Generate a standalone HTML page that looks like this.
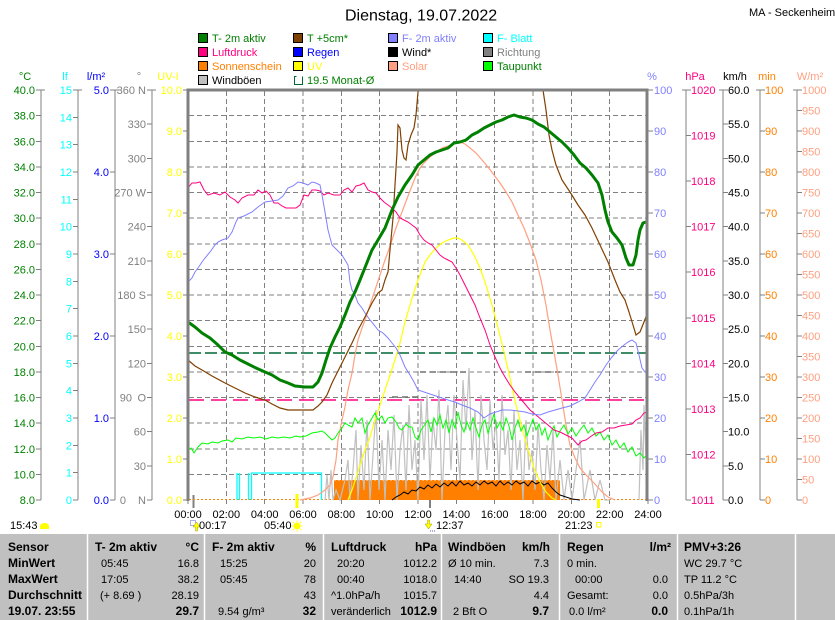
<!DOCTYPE html>
<html><head><meta charset="utf-8">
<style>
html,body{margin:0;padding:0;background:#fff;}
svg{display:block;}
text{font-family:"Liberation Sans",Arial,sans-serif;}
</style></head><body>
<svg width="835" height="620" viewBox="0 0 835 620" xmlns="http://www.w3.org/2000/svg">
<rect x="0" y="0" width="835" height="620" fill="#fff"/>

<!-- Title -->
<text x="345" y="20.5" font-size="16" fill="#000">Dienstag, 19.07.2022</text>
<text x="749" y="16" font-size="11" fill="#000">MA - Seckenheim</text>

<!-- Legend -->
<g font-size="11" stroke-width="1">
<rect x="198.5" y="33.5" width="9" height="9" fill="#008000" stroke="#000"/>
<text x="212" y="42" fill="#008000">T- 2m aktiv</text>
<rect x="198.5" y="47.5" width="9" height="9" fill="#FF0080" stroke="#000"/>
<text x="212" y="56" fill="#FF0080">Luftdruck</text>
<rect x="198.5" y="61.5" width="9" height="9" fill="#FF8000" stroke="#000"/>
<text x="212" y="70" fill="#FF8000">Sonnenschein</text>
<rect x="198.5" y="75.5" width="9" height="9" fill="#C0C0C0" stroke="#000"/>
<text x="212" y="84" fill="#000">Windböen</text>

<rect x="293.5" y="33.5" width="9" height="9" fill="#804000" stroke="#000"/>
<text x="307" y="42" fill="#008000">T +5cm*</text>
<rect x="293.5" y="47.5" width="9" height="9" fill="#0000FF" stroke="#000"/>
<text x="307" y="56" fill="#0000FF">Regen</text>
<rect x="293.5" y="61.5" width="9" height="9" fill="#FFFF00" stroke="#000"/>
<text x="307" y="70" fill="#FFFF00">UV</text>
<path d="M296.5,76.5 H294.5 V84.5 H302.5 V76.5" fill="none" stroke="#006633"/>
<text x="307" y="84" fill="#008000">19.5 Monat-Ø</text>

<rect x="388.5" y="33.5" width="9" height="9" fill="#8080FF" stroke="#000"/>
<text x="402" y="42" fill="#8080FF">F- 2m aktiv</text>
<rect x="388.5" y="47.5" width="9" height="9" fill="#000" stroke="#000"/>
<text x="402" y="56" fill="#000">Wind*</text>
<rect x="388.5" y="61.5" width="9" height="9" fill="#FFA080" stroke="#000"/>
<text x="402" y="70" fill="#FFA080">Solar</text>

<rect x="483.5" y="33.5" width="9" height="9" fill="#00FFFF" stroke="#000"/>
<text x="497" y="42" fill="#00FFFF">F- Blatt</text>
<rect x="483.5" y="47.5" width="9" height="9" fill="#808080" stroke="#000"/>
<text x="497" y="56" fill="#808080">Richtung</text>
<rect x="483.5" y="61.5" width="9" height="9" fill="#00FF00" stroke="#000"/>
<text x="497" y="70" fill="#008000">Taupunkt</text>
</g>

<!-- Axis titles -->
<g font-size="11" text-anchor="middle">
<text x="25" y="80" fill="#008000">°C</text>
<text x="65" y="80" fill="#00FFFF">lf</text>
<text x="96" y="80" fill="#0000FF">l/m²</text>
<text x="139" y="80" fill="#808080">°</text>
<text x="168" y="80" fill="#FFFF00">UV-I</text>
<text x="652" y="80" fill="#8080FF">%</text>
<text x="695" y="80" fill="#FF0080">hPa</text>
<text x="735" y="80" fill="#000">km/h</text>
<text x="767" y="80" fill="#FF8000">min</text>
<text x="810" y="80" fill="#FFA080">W/m²</text>
</g>

<!-- Axis lines and ticks -->
<g stroke="#808080" stroke-width="1" fill="none" shape-rendering="crispEdges">
<path d="M41,90V500 M36,90H45 M36,115.6H41 M36,141.3H41 M36,166.9H41 M36,192.5H41 M36,218.1H41 M36,243.8H41 M36,269.4H41 M36,295H41 M36,320.6H41 M36,346.3H41 M36,371.9H41 M36,397.5H41 M36,423.1H41 M36,448.8H41 M36,474.4H41 M36,500H41"/>
<path d="M78,90V500 M73,90H82 M73,117.3H78 M73,144.7H78 M73,172H78 M73,199.3H78 M73,226.7H78 M73,254H78 M73,281.3H78 M73,308.7H78 M73,336H78 M73,363.3H78 M73,390.7H78 M73,418H78 M73,445.3H78 M73,472.7H78 M73,500H78"/>
<path d="M115,90V500 M110,90H119 M110,172H115 M110,254H115 M110,336H115 M110,418H115 M110,500H115"/>
<path d="M152,90V500 M147,90H156 M147,124.2H152 M147,158.3H152 M147,192.5H152 M147,226.7H152 M147,260.8H152 M147,295H152 M147,329.2H152 M147,363.3H152 M147,397.5H152 M147,431.7H152 M147,465.8H152 M147,500H152"/>
<path d="M183,90H188 M183,131H188 M183,172H188 M183,213H188 M183,254H188 M183,295H188 M183,336H188 M183,377H188 M183,418H188 M183,459H188 M183,500H188"/>
<path d="M648,90H653 M648,131H653 M648,172H653 M648,213H653 M648,254H653 M648,295H653 M648,336H653 M648,377H653 M648,418H653 M648,459H653 M648,500H653"/>
<path d="M686,90V500 M682,90H691 M686,135.6H691 M686,181.1H691 M686,226.7H691 M686,272.2H691 M686,317.8H691 M686,363.3H691 M686,408.9H691 M686,454.4H691 M686,500H691"/>
<path d="M723,90V500 M719,90H728 M723,124.2H728 M723,158.3H728 M723,192.5H728 M723,226.7H728 M723,260.8H728 M723,295H728 M723,329.2H728 M723,363.3H728 M723,397.5H728 M723,431.7H728 M723,465.8H728 M723,500H728"/>
<path d="M760,90V500 M756,90H765 M760,131H765 M760,172H765 M760,213H765 M760,254H765 M760,295H765 M760,336H765 M760,377H765 M760,418H765 M760,459H765 M760,500H765"/>
<path d="M797,90V500 M793,90H802 M797,110.5H802 M797,131H802 M797,151.5H802 M797,172H802 M797,192.5H802 M797,213H802 M797,233.5H802 M797,254H802 M797,274.5H802 M797,295H802 M797,315.5H802 M797,336H802 M797,356.5H802 M797,377H802 M797,397.5H802 M797,418H802 M797,438.5H802 M797,459H802 M797,479.5H802 M797,500H802"/>
<!-- time ticks -->
<path d="M188,500V504 M226.3,500V504 M264.7,500V504 M303,500V504 M341.3,500V504 M379.7,500V504 M418,500V504 M456.3,500V504 M494.7,500V504 M533,500V504 M571.3,500V504 M609.7,500V504 M648,500V504"/>
<path d="M193.5,495V508 M430,500V508" stroke-width="2"/>
</g>

<!-- Left labels -->
<g font-size="11" text-anchor="end">
<g fill="#008000">
<text x="35" y="94">40.0</text><text x="35" y="119.6">38.0</text><text x="35" y="145.3">36.0</text><text x="35" y="170.9">34.0</text><text x="35" y="196.5">32.0</text><text x="35" y="222.1">30.0</text><text x="35" y="247.8">28.0</text><text x="35" y="273.4">26.0</text><text x="35" y="299">24.0</text><text x="35" y="324.6">22.0</text><text x="35" y="350.3">20.0</text><text x="35" y="375.9">18.0</text><text x="35" y="401.5">16.0</text><text x="35" y="427.1">14.0</text><text x="35" y="452.8">12.0</text><text x="35" y="478.4">10.0</text><text x="35" y="504">8.0</text>
</g>
<g fill="#00FFFF">
<text x="72" y="94">15</text><text x="72" y="121.3">14</text><text x="72" y="148.7">13</text><text x="72" y="176">12</text><text x="72" y="203.3">11</text><text x="72" y="230.7">10</text><text x="72" y="258">9</text><text x="72" y="285.3">8</text><text x="72" y="312.7">7</text><text x="72" y="340">6</text><text x="72" y="367.3">5</text><text x="72" y="394.7">4</text><text x="72" y="422">3</text><text x="72" y="449.3">2</text><text x="72" y="476.7">1</text><text x="72" y="504">0</text>
</g>
<g fill="#0000FF">
<text x="109" y="94">5.0</text><text x="109" y="176">4.0</text><text x="109" y="258">3.0</text><text x="109" y="340">2.0</text><text x="109" y="422">1.0</text><text x="109" y="504">0.0</text>
</g>
<g fill="#808080">
<text x="146" y="94">360 N</text><text x="146" y="128.2">330</text><text x="146" y="162.3">300</text><text x="146" y="196.5">270 W</text><text x="146" y="230.7">240</text><text x="146" y="264.8">210</text><text x="146" y="299">180 S</text><text x="146" y="333.2">150</text><text x="146" y="367.3">120</text><text x="132" y="401.5">90</text><text x="146" y="401.5">O</text><text x="146" y="435.7">60</text><text x="146" y="469.8">30</text><text x="126" y="504">0</text><text x="146" y="504">N</text>
</g>
<g fill="#FFFF00">
<text x="182" y="94">10.0</text><text x="182" y="135">9.0</text><text x="182" y="176">8.0</text><text x="182" y="217">7.0</text><text x="182" y="258">6.0</text><text x="182" y="299">5.0</text><text x="182" y="340">4.0</text><text x="182" y="381">3.0</text><text x="182" y="422">2.0</text><text x="182" y="463">1.0</text><text x="182" y="504">0.0</text>
</g>
</g>

<!-- Right labels -->
<g font-size="11">
<g fill="#8080FF">
<text x="654" y="94">100</text><text x="654" y="135">90</text><text x="654" y="176">80</text><text x="654" y="217">70</text><text x="654" y="258">60</text><text x="654" y="299">50</text><text x="654" y="340">40</text><text x="654" y="381">30</text><text x="654" y="422">20</text><text x="654" y="463">10</text><text x="654" y="504">0</text>
</g>
<g fill="#FF0080">
<text x="691" y="94">1020</text><text x="691" y="139.6">1019</text><text x="691" y="185.1">1018</text><text x="691" y="230.7">1017</text><text x="691" y="276.2">1016</text><text x="691" y="321.8">1015</text><text x="691" y="367.3">1014</text><text x="691" y="412.9">1013</text><text x="691" y="458.4">1012</text><text x="691" y="504">1011</text>
</g>
<g fill="#000">
<text x="728" y="94">60.0</text><text x="728" y="128.2">55.0</text><text x="728" y="162.3">50.0</text><text x="728" y="196.5">45.0</text><text x="728" y="230.7">40.0</text><text x="728" y="264.8">35.0</text><text x="728" y="299">30.0</text><text x="728" y="333.2">25.0</text><text x="728" y="367.3">20.0</text><text x="728" y="401.5">15.0</text><text x="728" y="435.7">10.0</text><text x="728" y="469.8">5.0</text><text x="728" y="504">0.0</text>
</g>
<g fill="#FF8000">
<text x="765" y="94">100</text><text x="765" y="135">90</text><text x="765" y="176">80</text><text x="765" y="217">70</text><text x="765" y="258">60</text><text x="765" y="299">50</text><text x="765" y="340">40</text><text x="765" y="381">30</text><text x="765" y="422">20</text><text x="765" y="463">10</text><text x="765" y="504">0</text>
</g>
<g fill="#FFA080">
<text x="802" y="94">1000</text><text x="802" y="114.5">950</text><text x="802" y="135">900</text><text x="802" y="155.5">850</text><text x="802" y="176">800</text><text x="802" y="196.5">750</text><text x="802" y="217">700</text><text x="802" y="237.5">650</text><text x="802" y="258">600</text><text x="802" y="278.5">550</text><text x="802" y="299">500</text><text x="802" y="319.5">450</text><text x="802" y="340">400</text><text x="802" y="360.5">350</text><text x="802" y="381">300</text><text x="802" y="401.5">250</text><text x="802" y="422">200</text><text x="802" y="442.5">150</text><text x="802" y="463">100</text><text x="802" y="483.5">50</text><text x="802" y="504">0</text>
</g>
</g>

<!-- Grid -->
<g stroke="#808080" stroke-width="1" stroke-dasharray="5,3" fill="none" shape-rendering="crispEdges">
<path d="M189,115.6H647 M189,141.3H647 M189,166.9H647 M189,192.5H647 M189,218.1H647 M189,243.8H647 M189,269.4H647 M189,295H647 M189,320.6H647 M189,346.3H647 M189,371.9H647 M189,397.5H647 M189,423.1H647 M189,448.8H647 M189,474.4H647"/>
<path d="M226.3,91V500 M264.7,91V500 M303,91V500 M341.3,91V500 M379.7,91V500 M418,91V500 M456.3,91V500 M494.7,91V500 M533,91V500 M571.3,91V500 M609.7,91V500"/>
</g>

<!-- Sunshine -->
<rect x="334" y="480" width="226" height="20" fill="#FF8000"/>
<path d="M334,480.5H560" stroke="#FFB060" stroke-dasharray="2,2" stroke-width="1"/>
<path d="M189,499.5H647" stroke="#FF8000" stroke-dasharray="2,2" stroke-width="1"/>

<!-- Average lines -->
<path d="M189,353H647" stroke="#006633" stroke-width="1.5" stroke-dasharray="12,4" fill="none"/>
<path d="M189,400H647" stroke="#FF0080" stroke-width="1.5" stroke-dasharray="15,7" fill="none"/>
<path d="M392,397H420 M420,372H470 M525,372H560" stroke="#707070" stroke-width="1.5" stroke-dasharray="6,4" fill="none"/>

<!-- F-Blatt -->
<path d="M237,500V473V500 M239.5,500V473V500 M248.5,500V473V500 M251.5,500V473H321.5V500" stroke="#00FFFF" stroke-width="1.3" fill="none"/>

<!-- Windböen -->
<polyline fill="none" stroke="#C0C0C0" stroke-width="1.2" points="325,500 327,475 329,500 331,470 333,500 336,490 340,500 345,480 348,460 350,500 353,470 356,430 358,500 361,445 364,490 367,420 370,500 373,455 376,410 379,490 382,440 385,500 388,430 391,470 394,415 397,500 400,450 403,425 406,490 409,405 412,470 415,440 418,500 421,400 424,460 427,395 430,480 433,420 436,450 439,390 442,500 445,430 448,405 451,470 454,395 457,440 460,480 463,380 466,430 469,368 472,460 475,410 478,490 481,395 484,440 487,470 490,400 493,450 496,420 499,480 502,395 505,455 508,430 511,490 514,410 517,470 520,440 523,500 526,420 529,470 532,450 535,490 538,425 541,470 544,500 547,445 550,480 553,430 556,500 560,460 564,500 568,470 572,500 580,440 584,500 590,470 595,500 600,480 605,500 610,500"/>
<polyline fill="none" stroke="#C0C0C0" stroke-width="1.2" points="639,500 641,430 643,470 644,405 646,460 647,420"/>

<!-- Wind -->
<polyline fill="none" stroke="#000" stroke-width="1" points="392,500 396,497 400,495 404,492 408,494 412,490 416,491 420,487 424,489 428,485 432,488 436,484 440,487 444,483 448,486 452,482 456,486 460,481 464,485 468,483 472,486 476,482 480,485 484,481 488,484 492,482 496,486 500,481 504,485 508,482 512,485 516,481 520,484 524,482 528,486 532,481 536,484 540,482 544,485 548,483 552,488 556,492 560,495 566,497 572,499 580,500"/>

<!-- UV -->
<polyline fill="none" stroke="#FFFF00" stroke-width="1.2" points="348,500 352,490 356,478 360,465 365,450 370,437 375,420 380,405 385,390 390,375 395,360 400,343 405,322 410,305 413,295 418,280 425,262 430,255 436,248 442,243 448,240 454,238 458,238 462,240 468,245 474,255 480,268 486,285 492,305 498,328 504,352 510,378 516,405 522,428 528,450 534,468 540,482 546,492 552,498 556,500"/>

<!-- Solar -->
<polyline fill="none" stroke="#FFA080" stroke-width="1.2" points="300,500 310,498 318,495 325,490 330,485 333,477 336,460 338,440 342,420 345,407 348,390 352,373 355,355 358,340 362,328 365,320 370,305 375,290 380,275 385,260 388,252 392,240 396,228 402,212 408,196 415,178 420,168 424,163 430,157 436,152 442,148 448,146 455,143 460,142 465,144 470,148 476,153 482,160 488,167 494,175 500,183 506,192 512,202 518,215 524,228 530,243 536,260 541,280 546,305 550,330 554,352 558,375 562,400 566,425 570,445 575,458 580,468 587,476 595,484 602,492 608,497 615,500"/>

<!-- Taupunkt -->
<polyline fill="none" stroke="#00FF00" stroke-width="1" points="188,450 191,448 194,453 198,447 202,443 208,444 212,442 218,443 222,441 228,440 232,442 236,438 242,439 248,437 254,438 260,437 266,439 272,437 278,438 284,437 290,438 296,436 300,437 306,436 312,433 318,432 322,431 325,433 328,436 332,440 335,438 338,433 342,428 345,423 348,425 352,427 355,418 358,423 362,418 365,433 368,425 372,418 375,413 378,420 382,416 385,423 388,418 392,417 396,422 399,428 402,430 406,424 409,427 412,427 415,437 418,440 421,430 424,426 428,420 431,432 434,418 437,425 440,415 443,428 446,420 449,433 452,420 455,428 458,412 461,425 464,432 467,422 470,430 473,418 476,428 479,437 482,425 485,420 488,433 491,424 494,414 497,428 500,422 503,430 506,418 509,426 512,440 515,428 518,420 521,431 524,425 527,436 530,427 533,419 536,430 539,424 542,435 545,428 548,440 551,432 554,426 557,437 560,431 564,425 568,434 572,428 576,436 580,430 584,425 588,433 592,428 596,436 600,432 604,440 608,435 612,445 616,440 620,448 624,443 628,452 632,447 636,456 640,453 644,458 647,455"/>

<!-- Luftdruck -->
<polyline fill="none" stroke="#FF0080" stroke-width="1" points="188,188 192,183 196,183 200,182 204,190 208,195 214,193 220,195 225,192 230,197 235,200 238,203 242,198 248,195 254,195 258,190 262,193 266,191 270,195 274,203 278,203 282,206 286,208 290,208 296,208 300,205 304,195 308,196 312,190 316,190 320,191 324,195 328,193 334,195 340,195 344,190 348,188 352,192 356,186 360,185 364,183 368,190 372,192 376,193 380,198 384,202 388,205 392,208 396,212 400,218 404,220 408,222 412,225 416,228 420,235 424,240 428,243 432,245 436,250 440,255 444,258 448,260 452,262 456,268 460,275 465,285 470,295 475,305 480,318 485,330 490,345 495,357 500,368 505,377 510,385 515,392 520,398 525,404 530,410 536,415 542,420 548,425 554,430 560,432 566,435 572,438 578,445 582,441 586,440 590,437 596,433 602,432 608,428 614,428 620,426 626,425 632,424 636,420 640,418 644,413 647,412"/>

<!-- F- 2m aktiv -->
<polyline fill="none" stroke="#8080FF" stroke-width="1" points="188,282 192,278 195,272 198,268 202,262 205,258 210,252 215,245 218,242 222,240 228,238 232,232 236,222 238,218 244,216 252,212 258,207 265,202 272,201 278,200 283,196 288,188 293,186 298,182 303,183 308,185 312,182 316,183 320,185 322,195 325,212 328,230 332,245 337,250 342,255 345,260 348,265 350,282 352,290 355,295 358,303 362,308 365,313 370,320 375,326 378,330 383,333 388,338 392,343 396,348 400,355 405,367 410,375 414,382 418,390 424,392 430,394 436,396 442,398 448,400 455,402 462,405 470,408 478,412 484,418 490,414 496,412 502,410 510,410 518,411 525,412 532,414 540,415 548,412 555,410 562,408 570,406 578,402 585,398 590,390 595,382 600,375 606,365 612,357 618,350 624,345 628,342 632,340 636,343 639,355 642,368 645,372 647,370"/>

<!-- T +5cm -->
<polyline fill="none" stroke="#804000" stroke-width="1.2" points="188,360 195,366 202,370 212,376 225,383 235,388 245,393 255,397 265,400 272,404 280,408 288,410 300,410 313,410 318,406 322,402 327,395 332,383 337,373 342,363 347,353 352,343 358,330 365,317 372,303 378,293 382,290 385,280 388,272 390,250 393,218 395,185 397,152 398,125 400,128 402,150 404,158 406,160 408,145 411,135 414,128 416,115 418,92 419,90"/>
<polyline fill="none" stroke="#804000" stroke-width="1.2" points="543,90 546,110 549,135 552,150 556,165 562,180 570,192 578,205 585,215 592,228 600,245 608,262 615,280 620,292 625,300 629,312 633,325 636,335 640,332 644,322 647,314"/>

<!-- T- 2m aktiv -->
<polyline fill="none" stroke="#008000" stroke-width="3" stroke-linejoin="round" points="188,322 195,327 202,333 210,338 218,345 225,352 232,355 240,360 248,364 256,368 265,372 272,375 280,380 288,383 295,386 305,387 313,387 318,382 322,373 326,360 330,348 335,337 340,327 345,315 350,302 355,292 360,280 366,265 372,250 378,240 385,228 392,210 398,197 405,185 412,175 418,165 424,160 430,155 436,152 442,150 448,148 454,143 460,142 466,140 472,135 478,132 484,128 490,125 496,122 502,120 508,117 514,115 520,117 526,118 532,120 538,124 544,127 550,132 556,137 562,142 568,148 574,155 580,163 586,168 592,175 598,183 602,195 605,210 608,222 612,232 617,238 622,245 626,258 629,265 633,265 636,255 638,240 640,230 643,223 646,222"/>

<!-- Plot frame -->
<path d="M188,501V90H647V501" fill="none" stroke="#808080" stroke-width="3"/>

<!-- Sunrise/sunset markers on axis -->
<path d="M297,494V508 M598.5,499V508" stroke="#FFFF00" stroke-width="3"/>

<!-- X labels -->
<g font-size="11" text-anchor="middle" fill="#000">
<text x="188" y="518">00:00</text><text x="226.3" y="518">02:00</text><text x="264.7" y="518">04:00</text><text x="303" y="518">06:00</text><text x="341.3" y="518">08:00</text><text x="379.7" y="518">10:00</text><text x="418" y="518">12:00</text><text x="456.3" y="518">14:00</text><text x="494.7" y="518">16:00</text><text x="533" y="518">18:00</text><text x="571.3" y="518">20:00</text><text x="609.7" y="518">22:00</text><text x="648" y="518">24:00</text>
</g>

<!-- Astronomical markers -->
<g font-size="11" fill="#000">
<rect x="190.5" y="520.5" width="5" height="5" fill="none" stroke="#6060C0" stroke-dasharray="1,1"/>
<polygon points="196.5,522 193,527 195.5,527 195.5,531 197.5,531 197.5,527 200,527" fill="#FFFF00" stroke="#A0A000" stroke-width="0.5"/>
<text x="199" y="529">00:17</text>
<text x="264" y="529">05:40</text>
<circle cx="297" cy="526" r="3.5" fill="#FFFF00"/>
<path d="M297,520.5V522 M297,530V531.5 M291.5,526H293 M301,526H302.5 M293,522L294,523 M301,522L300,523 M293,530L294,529 M301,530L300,529" stroke="#FFFF00" stroke-width="1"/>
<polygon points="428.5,529 425,524 427.5,524 427.5,520 429.5,520 429.5,524 432,524" fill="#FFFF00" stroke="#A0A000" stroke-width="0.5"/>
<path d="M430,531H435" stroke="#6060C0" stroke-dasharray="1,1"/>
<text x="436" y="529">12:37</text>
<text x="565" y="529">21:23</text>
<rect x="596.5" y="522.5" width="4.5" height="4.5" fill="none" stroke="#FFFF00" stroke-width="1"/>
<text x="10" y="529">15:43</text>
<ellipse cx="44.5" cy="526" rx="4.5" ry="3" fill="#FFFF00"/>
<rect x="40" y="526" width="9" height="3" fill="#FFFF00"/>
</g>

<!-- Table -->
<rect x="0" y="534" width="835" height="86" fill="#C0C0C0"/>
<g stroke="#FFFFFF" stroke-width="1.5">
<path d="M87.5,534V620 M204.5,534V620 M323.5,534V620 M441.5,534V620 M559.5,534V620 M677.5,534V620 M795.5,534V620"/>
</g>
<g fill="#000" font-size="12" font-weight="bold">
<text x="8" y="551">Sensor</text>
<text x="8" y="567">MinWert</text>
<text x="8" y="583">MaxWert</text>
<text x="8" y="599">Durchschnitt</text>
<text x="8" y="615">19.07. 23:55</text>
<text x="95" y="551">T- 2m aktiv</text>
<text x="199" y="551" text-anchor="end">°C</text>
<text x="212" y="551">F- 2m aktiv</text>
<text x="316" y="551" text-anchor="end">%</text>
<text x="331" y="551">Luftdruck</text>
<text x="437" y="551" text-anchor="end">hPa</text>
<text x="448" y="551">Windböen</text>
<text x="550" y="551" text-anchor="end">km/h</text>
<text x="567" y="551">Regen</text>
<text x="671" y="551" text-anchor="end">l/m²</text>
<text x="684" y="551">PMV+3:26</text>
<text x="199" y="615" text-anchor="end">29.7</text>
<text x="316" y="615" text-anchor="end">32</text>
<text x="437" y="615" text-anchor="end">1012.9</text>
<text x="549" y="615" text-anchor="end">9.7</text>
<text x="668" y="615" text-anchor="end">0.0</text>
</g>
<g fill="#000" font-size="11">
<text x="101" y="567">05:45</text><text x="199" y="567" text-anchor="end">16.8</text>
<text x="101" y="583">17:05</text><text x="199" y="583" text-anchor="end">38.2</text>
<text x="100" y="599">(+ 8.69 )</text><text x="199" y="599" text-anchor="end">28.19</text>

<text x="220" y="567">15:25</text><text x="316" y="567" text-anchor="end">20</text>
<text x="220" y="583">05:45</text><text x="316" y="583" text-anchor="end">78</text>
<text x="316" y="599" text-anchor="end">43</text>
<text x="218" y="615">9.54 g/m³</text>

<text x="337" y="567">20:20</text><text x="437" y="567" text-anchor="end">1012.2</text>
<text x="337" y="583">00:40</text><text x="437" y="583" text-anchor="end">1018.0</text>
<text x="331" y="599">^1.0hPa/h</text><text x="437" y="599" text-anchor="end">1015.7</text>
<text x="331" y="615">veränderlich</text>

<text x="448" y="567">Ø 10 min.</text><text x="549" y="567" text-anchor="end">7.3</text>
<text x="454" y="583">14:40</text><text x="549" y="583" text-anchor="end">SO 19.3</text>
<text x="549" y="599" text-anchor="end">4.4</text>
<text x="453" y="615">2 Bft O</text>

<text x="567" y="567">0 min.</text>
<text x="575" y="583">00:00</text><text x="668" y="583" text-anchor="end">0.0</text>
<text x="567" y="599">Gesamt:</text><text x="668" y="599" text-anchor="end">0.0</text>
<text x="569" y="615">0.0 l/m²</text>

<text x="684" y="567">WC 29.7 °C</text>
<text x="684" y="583">TP 11.2 °C</text>
<text x="684" y="599">0.5hPa/3h</text>
<text x="684" y="615">0.1hPa/1h</text>
</g>
</svg>
</body></html>
